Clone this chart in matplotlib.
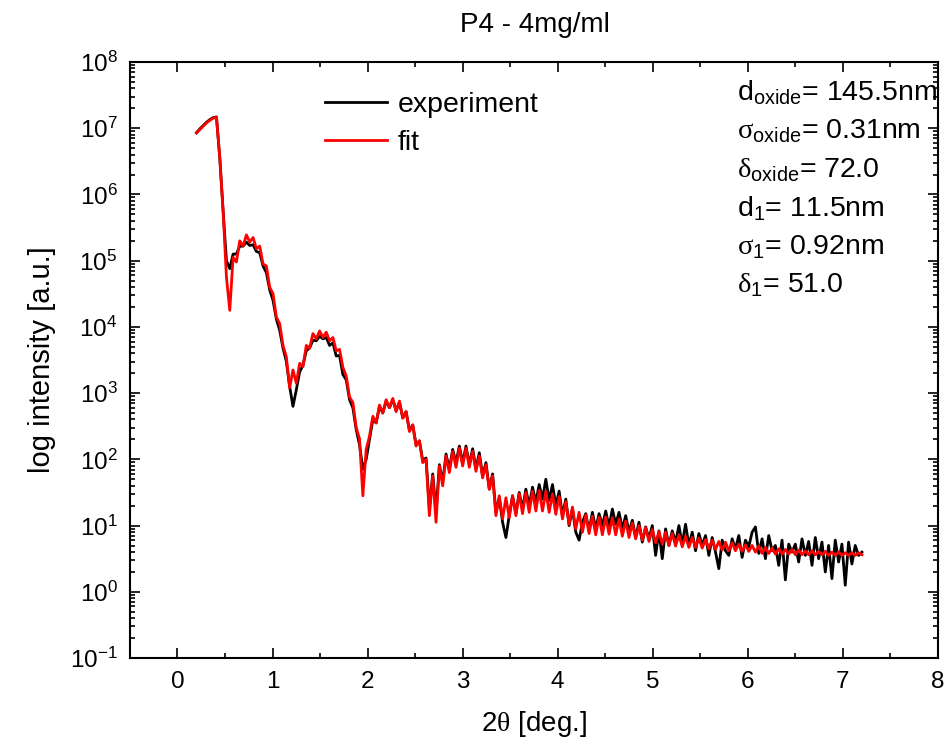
import numpy as np
import matplotlib
matplotlib.use("Agg")
import matplotlib.pyplot as plt
from matplotlib.ticker import LogLocator, MultipleLocator, NullFormatter

plt.rcParams['font.family'] = ['Liberation Sans', 'DejaVu Sans']
plt.rcParams['mathtext.fontset'] = 'custom'
plt.rcParams['mathtext.rm'] = 'Liberation Sans'
plt.rcParams['mathtext.it'] = 'Liberation Sans:italic'
plt.rcParams['mathtext.sf'] = 'Liberation Serif'

# ---------------- data ----------------
title = "P4 - 4mg/ml"
series_names = ["experiment", "fit"]

# scan grid: 2theta from 0.20 to 7.20 deg, 201 samples
theta = np.linspace(0.20, 7.20, 201)

# log10 intensity of the measured curve
experiment_log = [
    6.93, 6.99, 7.04, 7.09, 7.13, 7.16, 7.17, 6.55, 5.75, 5.00,
    4.88, 5.10, 5.10, 5.22, 5.22, 5.28, 5.23, 5.24, 5.14, 5.12,
    4.92, 4.82, 4.56, 4.40, 4.12, 3.95, 3.68, 3.48, 3.10, 2.80,
    3.05, 3.32, 3.42, 3.64, 3.68, 3.80, 3.79, 3.86, 3.82, 3.84,
    3.72, 3.76, 3.56, 3.57, 3.28, 3.20, 2.90, 2.78, 2.45, 2.22,
    1.85, 2.00, 2.30, 2.60, 2.55, 2.80, 2.70, 2.88, 2.78, 2.90,
    2.74, 2.86, 2.63, 2.72, 2.44, 2.52, 2.22, 2.28, 1.98, 2.02,
    1.25, 1.78, 1.20, 1.92, 1.65, 2.08, 1.85, 2.15, 1.95, 2.20,
    1.95, 2.20, 1.92, 2.16, 1.86, 2.10, 1.75, 1.95, 1.55, 1.78,
    1.20, 1.42, 1.05, 0.82, 1.15, 1.45, 1.18, 1.50, 1.25, 1.55,
    1.30, 1.58, 1.35, 1.62, 1.40, 1.70, 1.38, 1.62, 1.30, 1.52,
    1.15, 1.40, 1.00, 1.25, 0.90, 0.78, 1.05, 1.18, 0.92, 1.20,
    0.95, 1.18, 1.00, 1.22, 0.98, 1.25, 1.02, 1.20, 0.95, 1.15,
    0.90, 1.08, 0.82, 1.05, 0.75, 0.98, 0.80, 1.00, 0.55, 0.92,
    0.50, 0.95, 0.70, 0.92, 0.75, 1.00, 0.72, 1.02, 0.70, 0.90,
    0.62, 0.88, 0.70, 0.85, 0.55, 0.82, 0.60, 0.35, 0.78, 0.62,
    0.55, 0.80, 0.65, 0.85, 0.52, 0.78, 0.68, 0.90, 0.98, 0.58,
    0.80, 0.50, 0.85, 0.62, 0.70, 0.40, 0.78, 0.18, 0.72, 0.60,
    0.72, 0.45, 0.80, 0.55, 0.76, 0.40, 0.82, 0.50, 0.75, 0.30,
    0.70, 0.20, 0.78, 0.45, 0.72, 0.10, 0.75, 0.42, 0.70, 0.55,
    0.60,
]

# log10 intensity of the fitted curve
fit_log = [
    6.93, 6.98, 7.03, 7.08, 7.12, 7.15, 7.17, 6.55, 5.75, 4.75,
    4.25, 5.05, 4.98, 5.30, 5.22, 5.39, 5.28, 5.35, 5.18, 5.22,
    4.95, 4.92, 4.60, 4.50, 4.15, 4.05, 3.72, 3.55, 3.08, 3.35,
    3.15, 3.45, 3.40, 3.72, 3.68, 3.90, 3.82, 3.94, 3.84, 3.92,
    3.79, 3.84, 3.64, 3.66, 3.39, 3.26, 2.94, 2.86, 2.48, 2.31,
    1.45, 2.15, 2.35, 2.65, 2.55, 2.82, 2.70, 2.90, 2.78, 2.92,
    2.72, 2.88, 2.62, 2.72, 2.42, 2.52, 2.20, 2.28, 1.95, 2.00,
    1.15, 1.75, 1.05, 1.90, 1.60, 2.05, 1.80, 2.12, 1.88, 2.17,
    1.90, 2.17, 1.88, 2.12, 1.82, 2.05, 1.72, 1.92, 1.55, 1.75,
    1.15, 1.45, 1.10, 1.42, 1.12, 1.45, 1.15, 1.48, 1.18, 1.50,
    1.20, 1.52, 1.22, 1.53, 1.22, 1.52, 1.20, 1.48, 1.17, 1.44,
    1.10, 1.36, 1.02, 1.28, 0.95, 1.20, 0.90, 1.16, 0.88, 1.14,
    0.86, 1.13, 0.86, 1.13, 0.87, 1.12, 0.86, 1.10, 0.84, 1.07,
    0.82, 1.04, 0.80, 1.00, 0.78, 0.97, 0.76, 0.94, 0.74, 0.91,
    0.72, 0.90, 0.70, 0.88, 0.69, 0.86, 0.68, 0.84, 0.67, 0.82,
    0.67, 0.81, 0.66, 0.79, 0.65, 0.78, 0.64, 0.76, 0.63, 0.75,
    0.62, 0.74, 0.62, 0.72, 0.61, 0.71, 0.61, 0.70, 0.60, 0.69,
    0.58, 0.67, 0.58, 0.66, 0.57, 0.65, 0.57, 0.64, 0.57, 0.64,
    0.56, 0.63, 0.56, 0.62, 0.56, 0.62, 0.56, 0.61, 0.56, 0.61,
    0.55, 0.60, 0.55, 0.60, 0.55, 0.59, 0.55, 0.59, 0.55, 0.59,
    0.56,
]

# fit parameters shown on the chart
param_labels = [
    r'd$_{\mathrm{oxide}}$= 145.5nm',
    r'$\mathsf{\sigma}_{\mathrm{oxide}}$= 0.31nm',
    r'$\mathsf{\delta}_{\mathrm{oxide}}$= 72.0',
    r'd$_{\mathrm{1}}$= 11.5nm',
    r'$\mathsf{\sigma}_{\mathrm{1}}$= 0.92nm',
    r'$\mathsf{\delta}_{\mathrm{1}}$= 51.0',
]

x_ticks = [0, 1, 2, 3, 4, 5, 6, 7, 8]

# ---------------- plot ----------------
fig = plt.figure(figsize=(9.5, 7.47), dpi=100)
ax = fig.add_axes([0.1368, 0.1191, 0.8505, 0.7979])

exp_vals = 10.0 ** np.array(experiment_log)
fit_vals = 10.0 ** np.array(fit_log)

ax.plot(theta, exp_vals, color='black', lw=2.0, label=series_names[0])
ax.plot(theta, fit_vals, color='#ff0000', lw=2.0, label=series_names[1])

ax.set_yscale('log')
ax.set_xlim(-0.5, 8)
ax.set_ylim(1e-1, 1e8)
ax.set_xticks(x_ticks)
ax.xaxis.set_minor_locator(MultipleLocator(0.5))
ax.yaxis.set_major_locator(LogLocator(base=10, numticks=20))
ax.yaxis.set_minor_locator(LogLocator(base=10, subs=np.arange(2, 10), numticks=200))
ax.yaxis.set_minor_formatter(NullFormatter())

ax.tick_params(which='both', direction='in', top=True, right=True,
               width=1.2, labelsize=17.5, pad=9)
ax.tick_params(which='major', length=7.5)
ax.tick_params(which='minor', length=3.8)
for s in ax.spines.values():
    s.set_linewidth(1.5)

ax.set_xlabel(r'2$\mathsf{\theta}$ [deg.]', fontsize=20, labelpad=12)
ax.set_ylabel('log intensity [a.u.]', fontsize=21, labelpad=10)
fig.text(0.563, 0.967, title, ha='center', va='center', fontsize=20)

ax.legend(loc='upper left', bbox_to_anchor=(0.241, 0.95), frameon=False,
          fontsize=20.5, handlelength=2.2, handletextpad=0.35,
          labelspacing=0.42, borderpad=0, borderaxespad=0)

y0 = 0.948
dy = 0.0645
for i, t in enumerate(param_labels):
    ax.text(0.751, y0 - i * dy, t, transform=ax.transAxes, fontsize=20.5,
            ha='left', va='center')

fig.savefig('out.png', dpi=100)
